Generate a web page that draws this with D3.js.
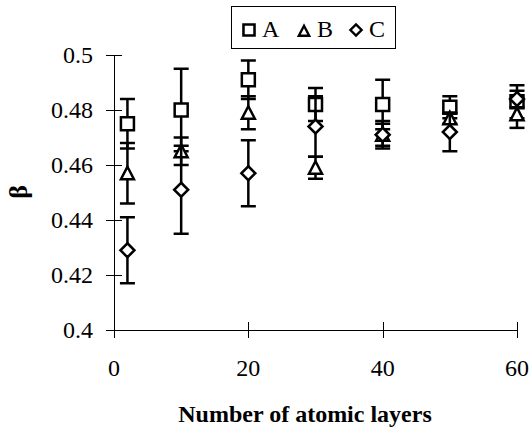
<!DOCTYPE html>
<html>
<head>
<meta charset="utf-8">
<script src="https://cdn.jsdelivr.net/npm/d3@7"></script>
<style>
  body { margin: 0; background: #fff; }
</style>
</head>
<body>
<div id="chart"></div>
<script>
// data
var layers = [2, 10, 20, 30, 40, 50, 60];
var seriesA = [0.475, 0.480, 0.491, 0.482, 0.482, 0.481, 0.483];
var errA    = [0.009, 0.015, 0.007, 0.006, 0.009, 0.004, 0.006];
var seriesB = [0.457, 0.465, 0.479, 0.459, 0.471, 0.477, 0.4785];
var errB    = [0.011, 0.005, 0.006, 0.004, 0.004, 0.002, 0.005];
var seriesC = [0.429, 0.451, 0.457, 0.474, 0.471, 0.472, 0.484];
var errC    = [0.012, 0.016, 0.012, 0.011, 0.005, 0.007, 0.003];
var seriesNames = ["A", "B", "C"];
var xTicks = [0, 20, 40, 60];
var yTicks = [0.4, 0.42, 0.44, 0.46, 0.48, 0.5];
var yTickLabels = ["0.4", "0.42", "0.44", "0.46", "0.48", "0.5"];

var W = 531, H = 437;
var serif = "'Liberation Serif', 'Times New Roman', serif";

var svg = d3.select("#chart").append("svg")
    .attr("width", W)
    .attr("height", H)
    .attr("font-family", serif);

var x = d3.scaleLinear().domain([0, 60]).range([114, 517]);
var y = d3.scaleLinear().domain([0.4, 0.5]).range([330, 55]);

// y axis (ticks cross the line)
var yAxis = svg.append("g").attr("transform", "translate(" + x(0) + ",0)");
yAxis.append("line")
    .attr("x1", 0.5).attr("x2", 0.5)
    .attr("y1", y(0.5)).attr("y2", y(0.4))
    .attr("stroke", "#000");
yAxis.selectAll("line.tick").data(yTicks).enter().append("line")
    .attr("class", "tick")
    .attr("x1", -8).attr("x2", 8)
    .attr("y1", function (d) { return Math.round(y(d)) + 0.5; })
    .attr("y2", function (d) { return Math.round(y(d)) + 0.5; })
    .attr("stroke", "#000");
yAxis.selectAll("text").data(yTicks).enter().append("text")
    .attr("x", -21)
    .attr("y", function (d) { return y(d) + 8; })
    .attr("text-anchor", "end")
    .attr("font-family", serif)
    .attr("font-size", 24)
    .text(function (d, i) { return yTickLabels[i]; });

// x axis
var xAxis = svg.append("g").attr("transform", "translate(0," + y(0.4) + ")");
xAxis.append("line")
    .attr("x1", x(0) - 8).attr("x2", x(60))
    .attr("y1", 0.5).attr("y2", 0.5)
    .attr("stroke", "#000");
xAxis.selectAll("line.tick").data(xTicks).enter().append("line")
    .attr("class", "tick")
    .attr("x1", function (d) { return Math.round(x(d)) + 0.5; })
    .attr("x2", function (d) { return Math.round(x(d)) + 0.5; })
    .attr("y1", -8).attr("y2", 8)
    .attr("stroke", "#000");
xAxis.selectAll("text").data(xTicks).enter().append("text")
    .attr("x", function (d) { return x(d); })
    .attr("y", 46)
    .attr("text-anchor", "middle")
    .attr("font-family", serif)
    .attr("font-size", 24)
    .text(function (d) { return d; });

// axis titles
svg.append("text")
    .attr("x", 305)
    .attr("y", 422)
    .attr("text-anchor", "middle")
    .attr("font-family", serif)
    .attr("font-size", 24)
    .attr("font-weight", "bold")
    .text("Number of atomic layers");

svg.append("text")
    .attr("transform", "translate(27,192) rotate(-90)")
    .attr("text-anchor", "middle")
    .attr("font-family", serif)
    .attr("font-size", 26)
    .attr("font-weight", "bold")
    .text("β");

// marker shapes
function markerPath(kind) {
  if (kind === "A") return "M-6.5,-6.5H6.5V6.5H-6.5Z";
  if (kind === "B") return "M0,-6.5L6.5,6L-6.5,6Z";
  return "M0,-7L7,0L0,7L-7,0Z";
}

var allSeries = [
  {name: "A", vals: seriesA, err: errA},
  {name: "B", vals: seriesB, err: errB},
  {name: "C", vals: seriesC, err: errC}
];

allSeries.forEach(function (s) {
  var pts = layers.map(function (l, i) { return {x: l, v: s.vals[i], e: s.err[i]}; });
  var g = svg.append("g");

  var bars = g.selectAll("g.bar").data(pts).enter().append("g")
      .attr("class", "bar")
      .attr("stroke", "#000")
      .attr("stroke-width", 2.5);
  bars.append("line")
      .attr("x1", function (d) { return x(d.x); })
      .attr("x2", function (d) { return x(d.x); })
      .attr("y1", function (d) { return y(d.v + d.e); })
      .attr("y2", function (d) { return y(d.v - d.e); });
  bars.append("line")
      .attr("x1", function (d) { return x(d.x) - 7.5; })
      .attr("x2", function (d) { return x(d.x) + 7.5; })
      .attr("y1", function (d) { return y(d.v + d.e); })
      .attr("y2", function (d) { return y(d.v + d.e); });
  bars.append("line")
      .attr("x1", function (d) { return x(d.x) - 7.5; })
      .attr("x2", function (d) { return x(d.x) + 7.5; })
      .attr("y1", function (d) { return y(d.v - d.e); })
      .attr("y2", function (d) { return y(d.v - d.e); });

  g.selectAll("path").data(pts).enter().append("path")
      .attr("d", markerPath(s.name))
      .attr("transform", function (d) { return "translate(" + x(d.x) + "," + y(d.v) + ")"; })
      .attr("fill", "#fff")
      .attr("stroke", "#000")
      .attr("stroke-width", 2.5);
});

// legend
var legend = svg.append("g");
legend.append("rect")
    .attr("x", 231.5).attr("y", 6.5)
    .attr("width", 164).attr("height", 42)
    .attr("fill", "#fff")
    .attr("stroke", "#000");
var legendX = [249, 304, 356];
seriesNames.forEach(function (n, i) {
  legend.append("path")
      .attr("d", markerPath(n))
      .attr("transform", "translate(" + legendX[i] + "," + (n === "B" ? 31 : 30) + ") scale(" + (n === "A" ? 0.85 : 0.8) + ")")
      .attr("fill", "#fff")
      .attr("stroke", "#000")
      .attr("stroke-width", 3);
  legend.append("text")
      .attr("x", legendX[i] + 13)
      .attr("y", 37)
      .attr("font-family", serif)
      .attr("font-size", 24)
      .text(n);
});
</script>
</body>
</html>
